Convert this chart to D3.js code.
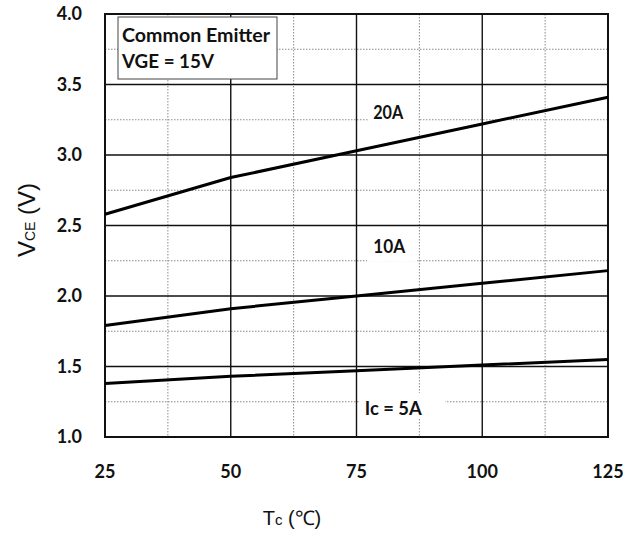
<!DOCTYPE html>
<html>
<head>
<meta charset="utf-8">
<script src="https://cdn.jsdelivr.net/npm/d3@7"></script>
<style>
  html, body { margin: 0; padding: 0; background: #fff; }
  svg { display: block; }
</style>
</head>
<body>
<svg id="chart" width="640" height="533"></svg>
<script>
// Case temperature (°C) at which each curve is sampled
const temps = [25, 50, 75, 100, 125];
// Collector-emitter saturation voltage (V) per collector current
const vce20A = [2.58, 2.84, 3.03, 3.22, 3.41];
const vce10A = [1.79, 1.91, 2.00, 2.09, 2.18];
const vce5A  = [1.38, 1.43, 1.47, 1.51, 1.55];
const seriesLabels = ["20A", "10A", "Ic = 5A"];
// Axis ticks
const xTicks = [25, 50, 75, 100, 125];
const yTicks = [1.0, 1.5, 2.0, 2.5, 3.0, 3.5, 4.0];
const xMinor = [37.5, 62.5, 87.5, 112.5];
const yMinor = [1.25, 1.75, 2.25, 2.75, 3.25, 3.75];

const svg = d3.select("#chart");
const plotL = 105, plotR = 608, plotT = 14, plotB = 437;

const x = d3.scaleLinear().domain([25, 125]).range([plotL, plotR]);
const y = d3.scaleLinear().domain([1.0, 4.0]).range([plotB, plotT]);

const boldFont = "Lato, 'Open Sans', sans-serif";

// Layers, bottom to top
const minorG = svg.append("g");
const patchG = svg.append("g");
const majorG = svg.append("g");
const markG = svg.append("g");

// Minor dotted grid
minorG.selectAll("line.v").data(xMinor).join("line").attr("class", "v")
  .attr("x1", d => x(d)).attr("x2", d => x(d))
  .attr("y1", plotT).attr("y2", plotB)
  .attr("stroke", "#8a8a8a").attr("stroke-width", 1).attr("stroke-dasharray", "1.5,1.5");
minorG.selectAll("line.h").data(yMinor).join("line").attr("class", "h")
  .attr("y1", d => y(d)).attr("y2", d => y(d))
  .attr("x1", plotL).attr("x2", plotR)
  .attr("stroke", "#8a8a8a").attr("stroke-width", 1).attr("stroke-dasharray", "1.5,1.5");

// Curve labels sit on white patches that mask the dotted grid
const labelSpots = [
  { t: 81.3, v: 3.30, bx: -20, bw: 50, by: -12, bh: 25, len: 30 },
  { t: 81.5, v: 2.35, bx: -22, bw: 50, by: -13, bh: 28, len: 32 },
  { t: 82.3, v: 1.20, bx: -34, bw: 86, by: -16, bh: 26, len: 57 }
];
labelSpots.forEach(s => {
  patchG.append("rect")
    .attr("x", x(s.t) + s.bx).attr("y", y(s.v) + s.by)
    .attr("width", s.bw).attr("height", s.bh)
    .attr("fill", "#fff");
});

// Major solid grid
majorG.selectAll("line.v").data(xTicks).join("line").attr("class", "v")
  .attr("x1", d => x(d)).attr("x2", d => x(d))
  .attr("y1", plotT).attr("y2", plotB)
  .attr("stroke", "#111").attr("stroke-width", 1.4);
majorG.selectAll("line.h").data(yTicks).join("line").attr("class", "h")
  .attr("y1", d => y(d)).attr("y2", d => y(d))
  .attr("x1", plotL).attr("x2", plotR)
  .attr("stroke", "#111").attr("stroke-width", 1.4);

// Frame
majorG.append("rect")
  .attr("x", plotL).attr("y", plotT)
  .attr("width", plotR - plotL).attr("height", plotB - plotT)
  .attr("fill", "none").attr("stroke", "#111").attr("stroke-width", 2);

// Label text
seriesLabels.forEach((lab, i) => {
  const s = labelSpots[i];
  markG.append("text")
    .attr("x", x(s.t)).attr("y", y(s.v) + 6)
    .attr("text-anchor", "middle")
    .attr("font-family", boldFont).attr("font-weight", "bold")
    .attr("font-size", 18).attr("fill", "#111")
    .attr("textLength", s.len).attr("lengthAdjust", "spacingAndGlyphs")
    .text(lab);
});

// Curves
const line = d3.line().x((d, i) => x(temps[i])).y(d => y(d));
[vce20A, vce10A, vce5A].forEach(s => {
  markG.append("path").datum(s)
    .attr("d", line)
    .attr("fill", "none").attr("stroke", "#000").attr("stroke-width", 3);
});

// Legend box
const lg = svg.append("g");
lg.append("rect")
  .attr("x", 118).attr("y", 17).attr("width", 159).attr("height", 62)
  .attr("fill", "#fff").attr("stroke", "#444").attr("stroke-width", 1);
lg.append("text").attr("x", 122).attr("y", 42)
  .attr("font-family", boldFont).attr("font-weight", "bold")
  .attr("font-size", 18).attr("fill", "#111")
  .attr("textLength", 148).attr("lengthAdjust", "spacingAndGlyphs")
  .text("Common Emitter");
lg.append("text").attr("x", 122).attr("y", 68)
  .attr("font-family", boldFont).attr("font-weight", "bold")
  .attr("font-size", 18).attr("fill", "#111")
  .attr("textLength", 92).attr("lengthAdjust", "spacingAndGlyphs")
  .text("VGE = 15V");

// Tick labels
svg.append("g").selectAll("text").data(yTicks).join("text")
  .attr("x", 82).attr("y", d => y(d) + 6)
  .attr("text-anchor", "end")
  .attr("font-family", boldFont).attr("font-weight", "bold")
  .attr("font-size", 18).attr("fill", "#111")
  .text(d => d.toFixed(1));
svg.append("g").selectAll("text").data(xTicks).join("text")
  .attr("x", d => x(d)).attr("y", 478)
  .attr("text-anchor", "middle")
  .attr("font-family", boldFont).attr("font-weight", "bold")
  .attr("font-size", 18).attr("fill", "#111")
  .text(d => d);

// Axis titles
const yTitle = svg.append("text")
  .attr("transform", "translate(35,220) rotate(-90)")
  .attr("text-anchor", "middle")
  .attr("font-family", "'Liberation Sans', Arial, sans-serif")
  .attr("font-size", 24).attr("fill", "#111");
yTitle.append("tspan").text("V");
yTitle.append("tspan").attr("font-size", 14).text("CE");
yTitle.append("tspan").text(" (V)");

const xTitle = svg.append("text")
  .attr("x", 292).attr("y", 525)
  .attr("text-anchor", "middle")
  .attr("font-family", "'Liberation Sans', Arial, sans-serif")
  .attr("font-size", 20).attr("fill", "#111");
xTitle.append("tspan").text("T");
xTitle.append("tspan").attr("font-size", 15).text("c");
xTitle.append("tspan").text(" (℃)");
</script>
</body>
</html>
